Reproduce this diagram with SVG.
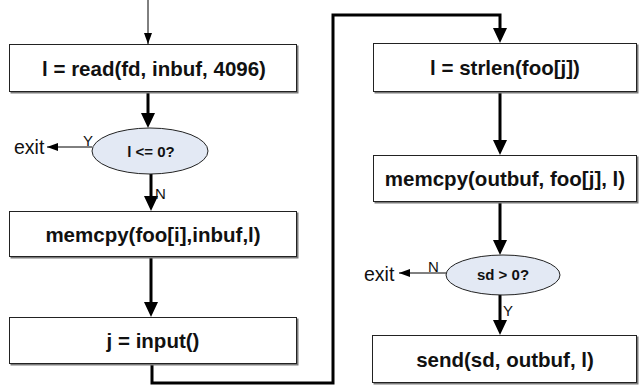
<svg xmlns="http://www.w3.org/2000/svg" width="642" height="389" viewBox="0 0 642 389">
  <style>
    .box { fill: #ffffff; stroke: #222222; stroke-width: 1; }
    .shadow { fill: #7a7a7a; }
    .dec { fill: #e3e9f4; stroke: #222222; stroke-width: 1; }
    .lbl { font-family: "Liberation Sans", Arial, sans-serif; font-weight: bold; font-size: 20.5px; fill: #111111; text-anchor: middle; }
    .dlbl { font-family: "Liberation Sans", Arial, sans-serif; font-weight: bold; font-size: 15px; fill: #111111; text-anchor: middle; }
    .txt { font-family: "Liberation Sans", Arial, sans-serif; font-size: 19.5px; fill: #111111; }
    .yn { font-family: "Liberation Sans", Arial, sans-serif; font-size: 15px; fill: #111111; }
    .thick { fill: none; stroke: #000000; stroke-width: 3; marker-end: url(#bigHead); }
    .thin { fill: none; stroke: #000000; stroke-width: 1; marker-end: url(#smallHead); }
  </style>
  <defs>
    <marker id="bigHead" markerUnits="userSpaceOnUse" markerWidth="16" markerHeight="16" refX="5" refY="7" orient="auto">
      <path d="M0,0 L15,7 L0,14 z" fill="#000000"/>
    </marker>
    <marker id="smallHead" markerUnits="userSpaceOnUse" markerWidth="12" markerHeight="10" refX="11" refY="4" orient="auto">
      <path d="M0,0 L11,4 L0,8 z" fill="#000000"/>
    </marker>
  </defs>

  <!-- connectors -->
  <g id="connectors">
    <path class="thin" d="M148,0 V44"/>
    <path class="thick" d="M148,92 V118"/>
    <path class="thick" d="M151,174 V201"/>
    <path class="thick" d="M151,257 V307"/>
    <path class="thick" d="M152,364 V383 H333 V15 H500 V33"/>
    <path class="thick" d="M500,92 V145"/>
    <path class="thick" d="M500,202 V245"/>
    <path class="thick" d="M500,295 V325"/>
    <path class="thin" d="M92,147 H47"/>
    <path class="thin" d="M446,273 H399"/>
    <text class="yn" x="83" y="146">Y</text>
    <text class="yn" x="155" y="199">N</text>
    <text class="yn" x="428" y="272">N</text>
    <text class="yn" x="503" y="316">Y</text>
    <text class="txt" x="14" y="154">exit</text>
    <text class="txt" x="364" y="281">exit</text>
  </g>

  <g id="read">
    <rect class="shadow" x="10.5" y="45.5" width="288" height="48"/>
    <rect class="box" x="9.5" y="44.5" width="287" height="47"/>
    <text class="lbl" x="154" y="76">l = read(fd, inbuf, 4096)</text>
  </g>

  <g id="check-len">
    <ellipse class="dec" cx="150" cy="151" rx="58" ry="23"/>
    <text class="dlbl" x="151" y="157">l &lt;= 0?</text>
  </g>

  <g id="copy-in">
    <rect class="shadow" x="10.5" y="212.5" width="288" height="46"/>
    <rect class="box" x="9.5" y="211.5" width="287" height="45"/>
    <text class="lbl" x="153" y="242">memcpy(foo[i],inbuf,l)</text>
  </g>

  <g id="input">
    <rect class="shadow" x="10.5" y="318.5" width="288" height="47"/>
    <rect class="box" x="9.5" y="317.5" width="287" height="46"/>
    <text class="lbl" x="153" y="348">j = input()</text>
  </g>

  <g id="strlen">
    <rect class="shadow" x="374.5" y="44.5" width="264" height="49"/>
    <rect class="box" x="373.5" y="43.5" width="263" height="48"/>
    <text class="lbl" x="505" y="75">l = strlen(foo[j])</text>
  </g>

  <g id="copy-out">
    <rect class="shadow" x="374.5" y="156.5" width="264" height="47"/>
    <rect class="box" x="373.5" y="155.5" width="263" height="46"/>
    <text class="lbl" x="505" y="186">memcpy(outbuf, foo[j], l)</text>
  </g>

  <g id="check-sd">
    <ellipse class="dec" cx="503" cy="275" rx="57" ry="20"/>
    <text class="dlbl" x="503" y="280">sd &gt; 0?</text>
  </g>

  <g id="send">
    <rect class="shadow" x="373.5" y="336.5" width="265" height="48"/>
    <rect class="box" x="372.5" y="335.5" width="264" height="47"/>
    <text class="lbl" x="505" y="367">send(sd, outbuf, l)</text>
  </g>
</svg>
